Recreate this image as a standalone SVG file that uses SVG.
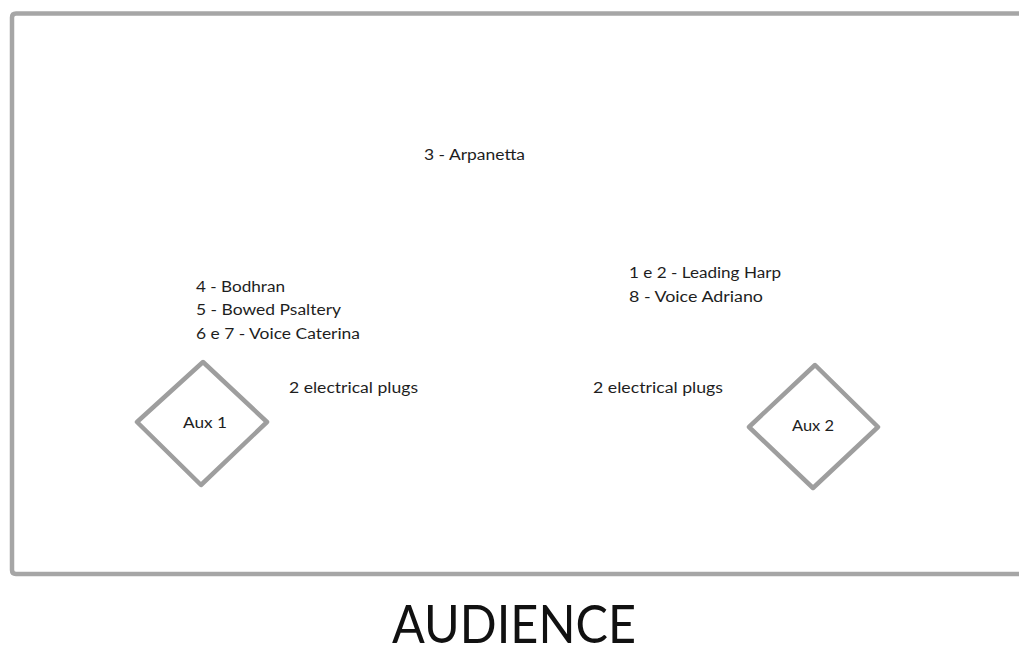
<svg xmlns="http://www.w3.org/2000/svg" width="1019" height="654" viewBox="0 0 1019 654">
<style>
.lbl{font-family:Lato,"Open Sans","Liberation Sans",sans-serif;font-size:15.5px;fill:#1e1e1e;}
.big{font-family:Lato,"Open Sans","Liberation Sans",sans-serif;font-size:53px;fill:#111;}
.edge{fill:none;stroke:#a6a6a6;stroke-width:4.5;stroke-linejoin:round;}
.dia{fill:#fff;stroke:#9e9e9e;stroke-width:4.5;stroke-linejoin:round;}
</style>
<rect width="1019" height="654" fill="#fff"/>
<g id="stage">
<path class="edge" d="M1019 13.5 H16 Q12 13.5 12 17.5 V570 Q12 574 16 574 H1019"/>
</g>
<g id="arpanetta"><text class="lbl" x="424" y="160" textLength="101" lengthAdjust="spacingAndGlyphs">3 - Arpanetta</text></g>
<g id="left-instruments">
<text class="lbl" x="196" y="291.5" textLength="89" lengthAdjust="spacingAndGlyphs">4 - Bodhran</text>
<text class="lbl" x="196" y="315" textLength="145" lengthAdjust="spacingAndGlyphs">5 - Bowed Psaltery</text>
<text class="lbl" x="196" y="338.5" textLength="164" lengthAdjust="spacingAndGlyphs">6 e 7 - Voice Caterina</text>
</g>
<g id="right-instruments">
<text class="lbl" x="629" y="278" textLength="152" lengthAdjust="spacingAndGlyphs">1 e 2 - Leading Harp</text>
<text class="lbl" x="629" y="302" textLength="134" lengthAdjust="spacingAndGlyphs">8 - Voice Adriano</text>
</g>
<g id="plugs-left"><text class="lbl" x="289" y="393" textLength="129" lengthAdjust="spacingAndGlyphs">2 electrical plugs</text></g>
<g id="plugs-right"><text class="lbl" x="593" y="393" textLength="130" lengthAdjust="spacingAndGlyphs">2 electrical plugs</text></g>
<g id="aux1">
<polygon class="dia" points="203,362 267,422 201,485 137,422"/>
<text class="lbl" x="183" y="428" textLength="44" lengthAdjust="spacingAndGlyphs">Aux 1</text>
</g>
<g id="aux2">
<polygon class="dia" points="815,365 878,427 813,488 749,427"/>
<text class="lbl" x="792" y="431" textLength="42" lengthAdjust="spacingAndGlyphs">Aux 2</text>
</g>
<g id="connectors"/>
<g id="audience"><text class="big" x="392" y="643" textLength="244" lengthAdjust="spacingAndGlyphs">AUDIENCE</text></g>
</svg>
